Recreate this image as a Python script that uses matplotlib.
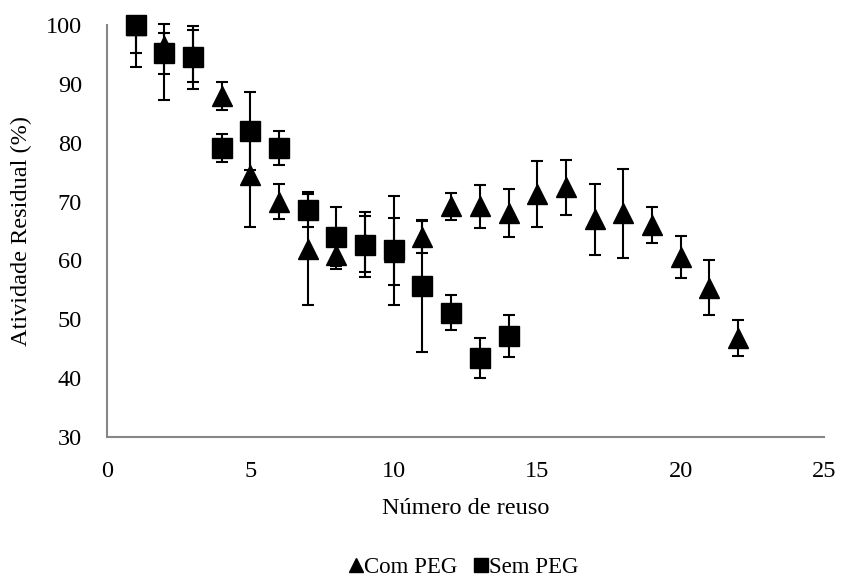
import numpy as np
import matplotlib.pyplot as plt

# Com PEG (triangles)
x_com = [1, 2, 3, 4, 5, 6, 7, 8, 9, 10, 11, 12, 13, 14, 15, 16, 17, 18, 19, 20, 21, 22]
y_com = [100, 96.5, 94.8, 88.0, 74.5, 70.0, 61.9, 61.0, 62.8, 61.5, 64.0, 69.2, 69.2, 68.1, 71.3, 72.4, 67.0, 68.0, 66.0, 60.6, 55.3, 46.8]
err_com_lo = [7.2, 9.2, 4.4, 2.4, 8.8, 3.0, 9.4, 2.4, 4.8, 5.7, 2.7, 2.3, 3.7, 4.1, 5.6, 4.7, 6.0, 7.5, 3.0, 3.5, 4.6, 3.0]
err_com_hi = [0.0, 3.6, 4.4, 2.4, 8.8, 3.0, 9.4, 2.4, 4.8, 5.7, 2.7, 2.3, 3.7, 4.1, 5.6, 4.7, 6.0, 7.5, 3.0, 3.5, 4.7, 3.0]

# Sem PEG (squares)
x_sem = [1, 2, 3, 4, 5, 6, 7, 8, 9, 10, 11, 12, 13, 14]
y_sem = [100, 95.2, 94.5, 79.1, 82.0, 79.1, 68.6, 64.0, 62.7, 61.7, 55.7, 51.1, 43.5, 47.2]
err_sem_lo = [4.7, 3.5, 5.3, 2.4, 6.6, 2.9, 3.0, 5.0, 5.5, 9.2, 11.2, 3.0, 3.4, 3.6]
err_sem_hi = [0.0, 3.5, 5.3, 2.4, 6.6, 2.9, 3.0, 5.0, 5.5, 9.2, 11.2, 3.0, 3.4, 3.6]

plt.rcParams['font.family'] = ['Liberation Serif', 'DejaVu Serif']

fig = plt.figure(figsize=(8.44, 5.77), dpi=100)
ax = fig.add_axes([0.1268, 0.2426, 0.8495, 0.714])

for x, y, lo, hi, mk, lab, z in [(x_com, y_com, err_com_lo, err_com_hi, '^', 'Com PEG', 3),
                                   (x_sem, y_sem, err_sem_lo, err_sem_hi, 's', 'Sem PEG', 4)]:
    cont = ax.errorbar(x, y, yerr=[lo, hi], fmt=mk, color='black',
                       markersize=14, ecolor='black', elinewidth=1.5, capsize=4.5,
                       capthick=1.5, label=lab, zorder=z)
    for art in cont.get_children():
        art.set_clip_on(False)

ax.set_xlim(0, 25)
ax.set_ylim(30, 100)
ax.set_xticks(np.arange(0, 26, 5))
ax.set_yticks(np.arange(30, 101, 10))
ax.tick_params(length=0, labelsize=17.5)
ax.tick_params(axis='x', pad=17)
ax.tick_params(axis='y', pad=18)

for side in ['top', 'right']:
    ax.spines[side].set_visible(False)
for side in ['left', 'bottom']:
    ax.spines[side].set_color('#878787')
    ax.spines[side].set_linewidth(1.5)

ax.set_xlabel('Número de reuso', fontsize=17.5, labelpad=12)
ax.set_ylabel('Atividade Residual (%)', fontsize=17.5, labelpad=10)

handles, labels = ax.get_legend_handles_labels()
handles = [h[0] for h in handles]
leg = fig.legend(handles, labels, loc='center', bbox_to_anchor=(0.55, 0.017),
                 ncol=2, frameon=False, fontsize=16.5, handlelength=0.5,
                 handletextpad=0.1, columnspacing=0.8, markerscale=0.75)

fig.savefig('out.png', dpi=100)
